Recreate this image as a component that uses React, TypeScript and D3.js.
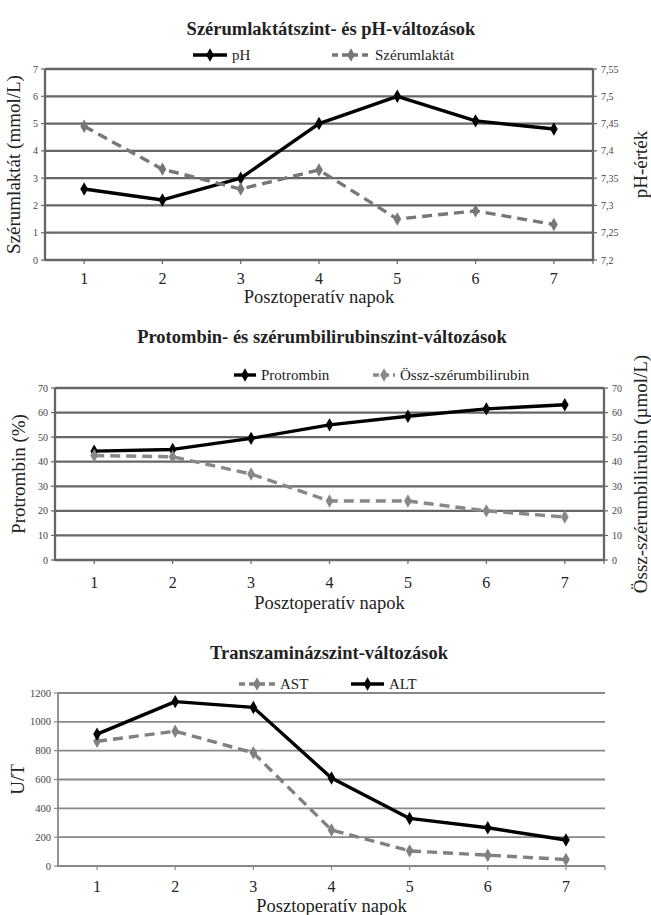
import React from 'react';
import * as d3 from 'd3';

// ---------- DATA ----------
const days = ['1', '2', '3', '4', '5', '6', '7'];

const phValues = [7.33, 7.31, 7.35, 7.45, 7.5, 7.455, 7.44];
const lactateValues = [4.9, 3.33, 2.6, 3.3, 1.5, 1.8, 1.3];
const lactateTicks = [0, 1, 2, 3, 4, 5, 6, 7];
const phTicks = [7.2, 7.25, 7.3, 7.35, 7.4, 7.45, 7.5, 7.55];

const prothrombinValues = [44.3, 45, 49.5, 55, 58.5, 61.5, 63.2];
const bilirubinValues = [42.5, 42, 35, 24, 24, 20, 17.5];
const percentTicks = [0, 10, 20, 30, 40, 50, 60, 70];
const bilirubinTicks = [0, 10, 20, 30, 40, 50, 60, 70];

const altValues = [915, 1140, 1100, 610, 330, 265, 180];
const astValues = [865, 935, 785, 250, 105, 75, 45];
const utTicks = [0, 200, 400, 600, 800, 1000, 1200];

const xTitle = 'Posztoperatív napok';

// ---------- STYLE ----------
const FONT = '"Liberation Serif", "Times New Roman", serif';
const TEXT = '#222';

type Series = {
  name: string;
  values: number[];
  axis: 'left' | 'right';
  color: string;
  dash?: string;
  width: number;
  legendX: number;
  legendTextX: number;
};

type PanelCfg = {
  title: string;
  titleX: number;
  titleY: number;
  legendY: number;
  plot: { l: number; r: number; t: number; b: number };
  leftDomain: [number, number];
  leftTicks: number[];
  leftFmt: (v: number) => string;
  leftLabel: string;
  leftLabelX: number;
  leftTickFont: number;
  rightDomain?: [number, number];
  rightTicks?: number[];
  rightFmt?: (v: number) => string;
  rightLabel?: string;
  rightLabelX?: number;
  rightBorder: boolean;
  series: Series[];
  tickLabelY: number;
  xTitleY: number;
  gridColor: string;
  gridWidth: number;
};

const comma = (v: number) => String(v).replace('.', ',');
const plain = (v: number) => String(v);

function Panel({ cfg }: { cfg: PanelCfg }) {
  const { plot } = cfg;
  const x = d3.scalePoint<string>().domain(days).range([plot.l, plot.r]).padding(0.5);
  const yL = d3.scaleLinear().domain(cfg.leftDomain).range([plot.b, plot.t]);
  const yR = cfg.rightDomain
    ? d3.scaleLinear().domain(cfg.rightDomain).range([plot.b, plot.t])
    : yL;
  const diamond = d3.symbol().type(d3.symbolDiamond).size(52)();
  const midY = (plot.t + plot.b) / 2;

  return (
    <g>
      <text x={cfg.titleX} y={cfg.titleY} textAnchor="middle"
        fontWeight="bold" fontSize={18.5} fill={TEXT}>{cfg.title}</text>

      {/* legend */}
      {cfg.series.map((s) => (
        <g key={'lg' + s.name}>
          <line x1={s.legendX} x2={s.legendTextX - 5} y1={cfg.legendY} y2={cfg.legendY}
            stroke={s.color} strokeWidth={s.width} strokeDasharray={s.dash === undefined ? undefined : '6,4'} />
          <path d={diamond!} transform={`translate(${(s.legendX + s.legendTextX - 5) / 2},${cfg.legendY})`}
            fill={s.color} />
          <text x={s.legendTextX} y={cfg.legendY + 5} fontSize={15} fill={TEXT}>{s.name}</text>
        </g>
      ))}

      {/* gridlines */}
      {cfg.leftTicks.map((t) => (
        <line key={'g' + t} x1={plot.l} x2={plot.r} y1={yL(t)} y2={yL(t)}
          stroke={cfg.gridColor} strokeWidth={cfg.gridWidth} />
      ))}
      {/* axes */}
      <line x1={plot.l} x2={plot.l} y1={plot.t} y2={plot.b + 1} stroke={cfg.gridColor} strokeWidth={cfg.gridWidth} />
      {cfg.rightBorder && (
        <line x1={plot.r} x2={plot.r} y1={plot.t} y2={plot.b + 1} stroke={cfg.gridColor} strokeWidth={cfg.gridWidth} />
      )}
      {/* left ticks */}
      {cfg.leftTicks.map((t) => (
        <g key={'lt' + t}>
          <line x1={plot.l - 4} x2={plot.l} y1={yL(t)} y2={yL(t)} stroke={cfg.gridColor} strokeWidth={1.2} />
          <text x={plot.l - 7} y={yL(t) + 3.5} textAnchor="end"
            fontSize={cfg.leftTickFont} fill="#444">{cfg.leftFmt(t)}</text>
        </g>
      ))}
      {/* right ticks */}
      {cfg.rightTicks && cfg.rightTicks.map((t) => (
        <g key={'rt' + t}>
          <line x1={plot.r} x2={plot.r + 4} y1={yR(t)} y2={yR(t)} stroke={cfg.gridColor} strokeWidth={1.2} />
          <text x={plot.r + 8} y={yR(t) + 3.5}
            fontSize={cfg.leftTickFont} fill="#444">{cfg.rightFmt!(t)}</text>
        </g>
      ))}
      {/* x ticks */}
      {days.map((d) => (
        <g key={'xt' + d}>
          <line x1={x(d)} x2={x(d)} y1={plot.b} y2={plot.b + 4} stroke={cfg.gridColor} strokeWidth={1.2} />
          <text x={x(d)} y={cfg.tickLabelY} textAnchor="middle"
            fontSize={16} fill={TEXT}>{d}</text>
        </g>
      ))}
      <line x1={plot.r} x2={plot.r} y1={plot.b} y2={plot.b + 4} stroke={cfg.gridColor} strokeWidth={1.2} />
      <text x={(plot.l + plot.r) / 2} y={cfg.xTitleY} textAnchor="middle"
        fontSize={18.5} fill={TEXT}>{xTitle}</text>
      <text transform={`translate(${cfg.leftLabelX},${midY}) rotate(-90)`} textAnchor="middle"
        fontSize={19} fill={TEXT}>{cfg.leftLabel}</text>
      {cfg.rightLabel && (
        <text transform={`translate(${cfg.rightLabelX},${midY}) rotate(-90)`} textAnchor="middle"
          fontSize={19} fill={TEXT}>{cfg.rightLabel}</text>
      )}

      {/* series */}
      {cfg.series.map((s) => {
        const y = s.axis === 'left' ? yL : yR;
        const line = d3.line<number>().x((_, i) => x(days[i])!).y((v) => y(v));
        return (
          <g key={'s' + s.name}>
            <path d={line(s.values)!} fill="none" stroke={s.color} strokeWidth={s.width}
              strokeDasharray={s.dash} strokeLinejoin="round" />
            {s.values.map((v, i) => (
              <path key={i} d={diamond!} transform={`translate(${x(days[i])},${y(v)})`} fill={s.color} />
            ))}
          </g>
        );
      })}
    </g>
  );
}

const panels: PanelCfg[] = [
  {
    title: 'Szérumlaktátszint- és pH-változások',
    titleX: 331,
    titleY: 35,
    legendY: 55,
    plot: { l: 45, r: 593, t: 69, b: 260 },
    leftDomain: [0, 7],
    leftTicks: lactateTicks,
    leftFmt: plain,
    leftLabel: 'Szérumlaktát (mmol/L)',
    leftLabelX: 20,
    leftTickFont: 10,
    rightDomain: [7.2, 7.55],
    rightTicks: phTicks,
    rightFmt: comma,
    rightLabel: 'pH-érték',
    rightLabelX: 647,
    rightBorder: true,
    series: [
      { name: 'pH', values: phValues, axis: 'right', color: '#000', width: 3.4, legendX: 193, legendTextX: 232 },
      { name: 'Szérumlaktát', values: lactateValues, axis: 'left', color: '#777', dash: '10,6', width: 3.4, legendX: 332, legendTextX: 375 },
    ],
    tickLabelY: 284,
    xTitleY: 303,
    gridColor: '#666',
    gridWidth: 2.3,
  },
  {
    title: 'Protombin- és szérumbilirubinszint-változások',
    titleX: 322,
    titleY: 343,
    legendY: 375,
    plot: { l: 55, r: 604, t: 388, b: 560 },
    leftDomain: [0, 70],
    leftTicks: percentTicks,
    leftFmt: plain,
    leftLabel: 'Protrombin (%)',
    leftLabelX: 25,
    leftTickFont: 10,
    rightDomain: [0, 70],
    rightTicks: bilirubinTicks,
    rightFmt: plain,
    rightLabel: 'Össz-szérumbilirubin (µmol/L)',
    rightLabelX: 647,
    rightBorder: true,
    series: [
      { name: 'Protrombin', values: prothrombinValues, axis: 'left', color: '#000', width: 3.4, legendX: 234, legendTextX: 261 },
      { name: 'Össz-szérumbilirubin', values: bilirubinValues, axis: 'right', color: '#888', dash: '10,6', width: 3.4, legendX: 373, legendTextX: 400 },
    ],
    tickLabelY: 588,
    xTitleY: 609,
    gridColor: '#666',
    gridWidth: 2.3,
  },
  {
    title: 'Transzaminázszint-változások',
    titleX: 329,
    titleY: 659,
    legendY: 684,
    plot: { l: 58, r: 605, t: 693, b: 866 },
    leftDomain: [0, 1200],
    leftTicks: utTicks,
    leftFmt: plain,
    leftLabel: 'U/T',
    leftLabelX: 24,
    leftTickFont: 10.5,
    rightBorder: false,
    series: [
      { name: 'AST', values: astValues, axis: 'left', color: '#808080', dash: '10,6', width: 3.4, legendX: 239, legendTextX: 280 },
      { name: 'ALT', values: altValues, axis: 'left', color: '#000', width: 3.4, legendX: 351, legendTextX: 389 },
    ],
    tickLabelY: 892,
    xTitleY: 912,
    gridColor: '#888',
    gridWidth: 1.8,
  },
];

export default function App() {
  return (
    <svg width={651} height={915} viewBox="0 0 651 915"
      style={{ position: 'absolute', left: 0, top: 0, background: '#fff', fontFamily: FONT }}>
      <rect x={0} y={0} width={651} height={915} fill="#fff" />
      {panels.map((p, i) => (
        <Panel key={i} cfg={p} />
      ))}
    </svg>
  );
}
